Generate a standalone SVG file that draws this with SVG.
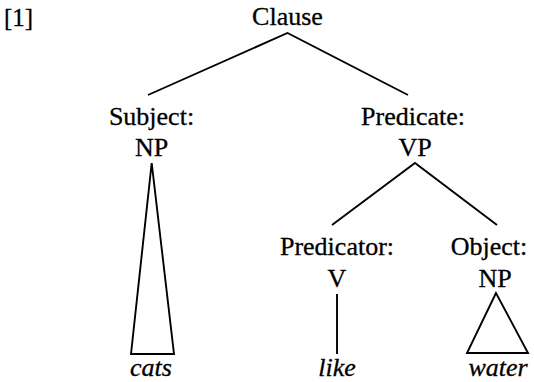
<svg xmlns="http://www.w3.org/2000/svg" width="534" height="382" viewBox="0 0 534 382">
<style>
text{font-family:"Liberation Serif","Times New Roman",serif;font-size:26px;fill:#000;stroke:#000;stroke-width:0.3;text-anchor:middle}
.it{font-style:italic}
.e{stroke:#000;stroke-width:1.9;fill:none;stroke-linejoin:miter}
</style>
<rect width="534" height="382" fill="#fff"/>
<text x="4" y="26" style="text-anchor:start;font-size:25px">[1]</text>
<g id="connectors">
<polyline class="e" points="148,95 287.5,33 408,95"/>
<polyline class="e" points="332,225 415,163 497,225"/>
<polygon class="e" points="151.7,163 131,354 174,354"/>
<line class="e" x1="337" y1="294" x2="337" y2="354"/>
<polygon class="e" points="496,293 467,353 528,353"/>
</g>
<g id="clause"><text x="287.5" y="25">Clause</text></g>
<g id="subject"><text x="151.5" y="125">Subject:</text><text x="151.5" y="156">NP</text></g>
<g id="predicate"><text x="413" y="125">Predicate:</text><text x="415" y="156">VP</text></g>
<g id="predicator"><text x="337" y="255">Predicator:</text><text x="337" y="287">V</text></g>
<g id="object"><text x="489" y="255">Object:</text><text x="495" y="287">NP</text></g>
<g id="cats"><text class="it" x="151" y="376">cats</text></g>
<g id="like"><text class="it" x="337" y="376">like</text></g>
<g id="water"><text class="it" x="498" y="376">water</text></g>
</svg>
